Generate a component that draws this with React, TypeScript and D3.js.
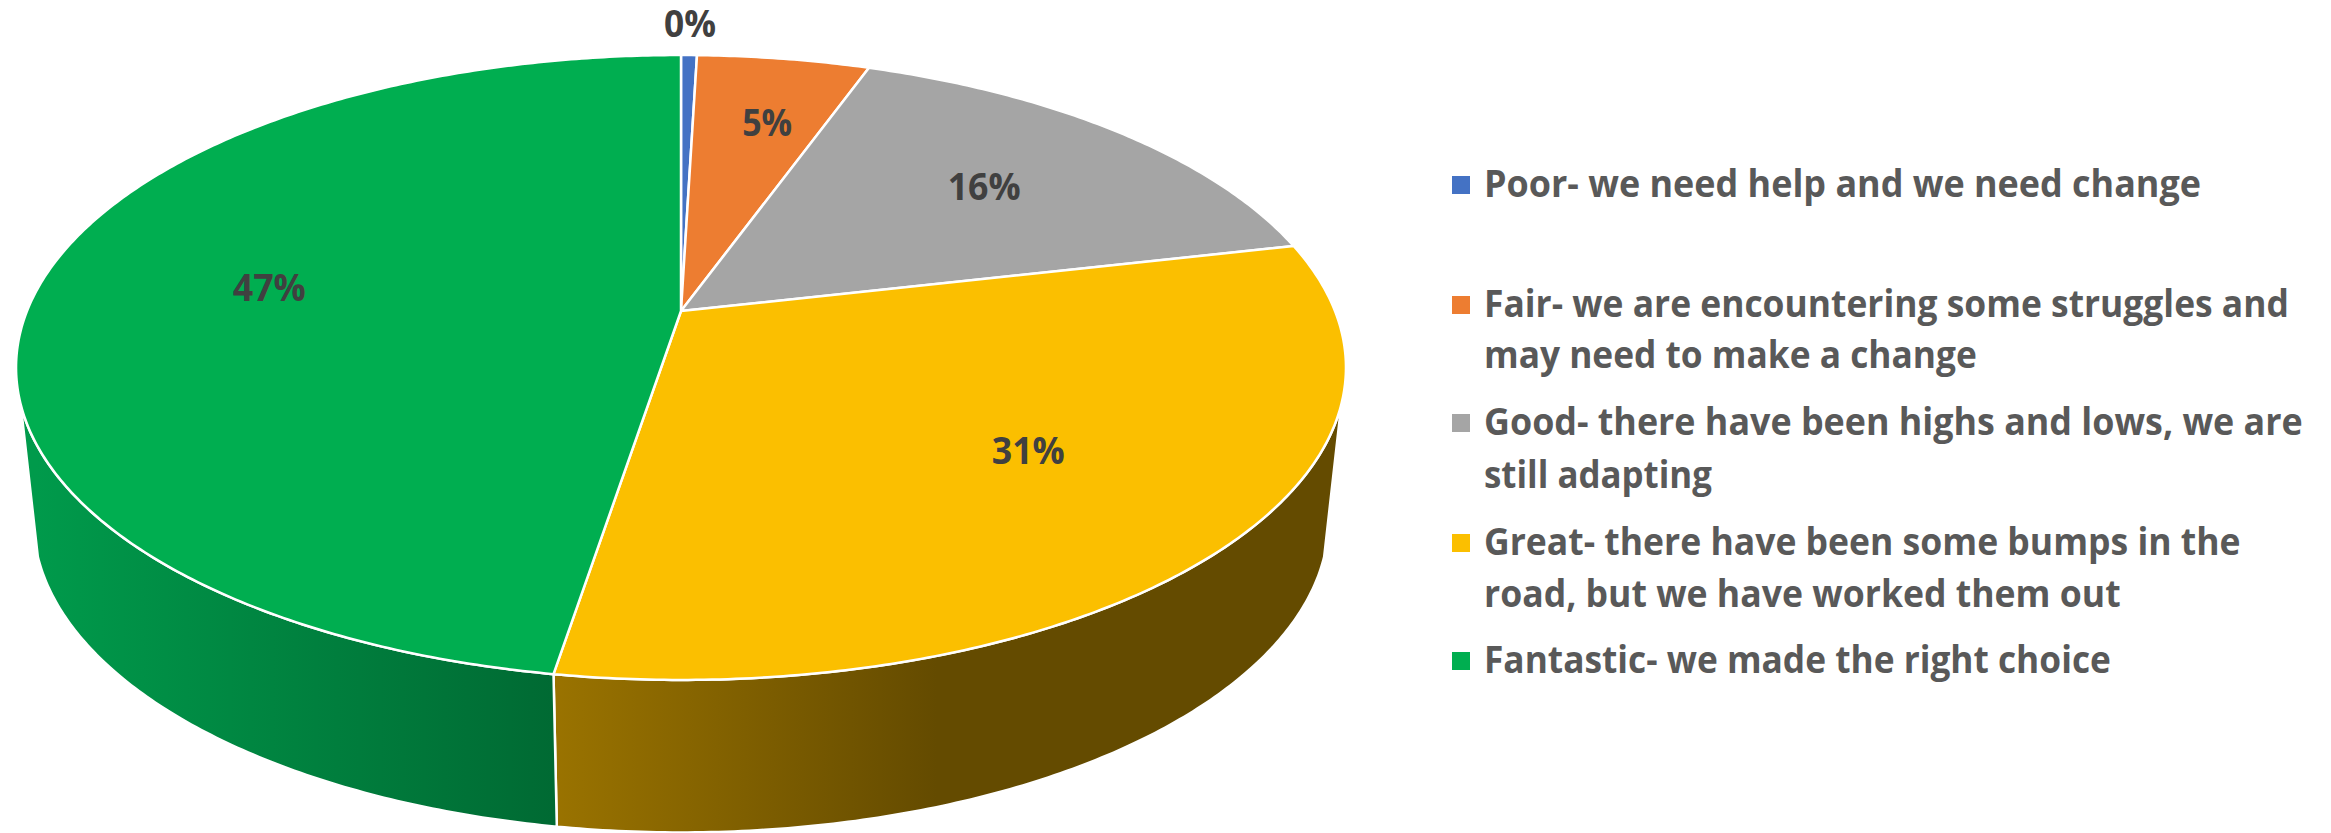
import React, { useEffect, useRef } from "react";
import * as d3 from "d3";

const categories = ["Poor", "Fair", "Good", "Great", "Fantastic"];
const shares = [0.46, 5, 15.95, 31.15, 47.44];
const labels = ["0%", "5%", "16%", "31%", "47%"];
const colors = ["#4472C4", "#ED7D31", "#A5A5A5", "#FBBF00", "#00AE50"];
const legendLines = [
    ["Poor- we need help and we need change"],
    ["Fair- we are encountering some struggles and", "may need to make a change"],
    ["Good- there have been highs and lows, we are", "still adapting"],
    ["Great- there have been some bumps in the", "road, but we have worked them out"],
    ["Fantastic- we made the right choice"],
];

// layout
const legendBaselines = [[197], [317, 368], [435, 488], [555, 607], [673]];
const legendWidths = [[717], [805, 493], [819, 228], [757, 637], [627]];
const labelWidths = [52, 50, 73, 73, 73];
const labelRadius = [1.15, 0.72, 0.67, 0.65, 0.65];
const labelShift = [[0, 0], [9, 1], [0, 0], [10, -6], [8, -8]];
const cx = 681;
const R = 654;
const apexY = 311;
const persp = -0.1808; // how much the near edge grows
const slant = 246;
const wallScale = 0.974;
const wallCentreY = 520;
const rimCentreY = 367.5;
const wallStart = (107 * Math.PI) / 180; // where the wall leaves the top rim

// angle (clockwise from 12 o'clock) and radius fraction to page position
function top(a: number, r = 1): [number, number] {
    const u = r * Math.sin(a);
    const v = -r * Math.cos(a);
    const d = 1 + persp * v;
    return [cx + (R * u) / d, (slant * v + apexY) / d];
}

function bottom(a: number): [number, number] {
    const [x, y] = top(a);
    return [cx + wallScale * (x - cx), wallCentreY + (y - rimCentreY)];
}

function angles(a0: number, a1: number) {
    const n = Math.max(2, Math.ceil((a1 - a0) / 0.01));
    return d3.range(n + 1).map((i) => a0 + ((a1 - a0) * i) / n);
}

// the original type is narrower than Open Sans, so squeeze each line to its width
function squeeze(text: any, x: number, y: number, width: number) {
    const natural = text.node().getComputedTextLength();
    text.attr("transform", `translate(${x},${y}) scale(${width / natural},1)`);
}

export default function App() {
    const ref = useRef<SVGSVGElement>(null);

    useEffect(() => {
        const svg = d3.select(ref.current);
        svg.selectAll("*").remove();

        const arcs = d3.pie<number>().sort(null)(shares);
        const line = d3.line();
        const defs = svg.append("defs");

        const wallGrad = [
            { i: 3, x1: 553, x2: 937, from: "#9A7300", to: "#644B00" },
            { i: 4, x1: 36, x2: 553, from: "#009A4B", to: "#006A33" },
        ];
        wallGrad.forEach((g) => {
            const lg = defs
                .append("linearGradient")
                .attr("id", "wall" + g.i)
                .attr("gradientUnits", "userSpaceOnUse")
                .attr("x1", g.x1)
                .attr("x2", g.x2)
                .attr("y1", 0)
                .attr("y2", 0);
            lg.append("stop").attr("offset", 0).attr("stop-color", g.from);
            lg.append("stop").attr("offset", 1).attr("stop-color", g.to);
        });

        // side walls first, the top face covers their upper edge
        arcs.forEach((d, i) => {
            const a0 = Math.max(d.startAngle, wallStart);
            const a1 = Math.min(d.endAngle, 2 * Math.PI - wallStart);
            if (a1 <= a0) return;
            const as = angles(a0, a1);
            const pts = [...as.map((a) => top(a)), ...as.reverse().map(bottom)];
            svg.append("path")
                .attr("d", line(pts) + "Z")
                .attr("fill", `url(#wall${i})`)
                .attr("stroke", "#fff")
                .attr("stroke-width", 2.5)
                .attr("stroke-linejoin", "round");
        });

        arcs.forEach((d, i) => {
            const pts = [top(0, 0), ...angles(d.startAngle, d.endAngle).map((a) => top(a))];
            svg.append("path")
                .attr("d", line(pts) + "Z")
                .attr("fill", colors[i])
                .attr("stroke", "#fff")
                .attr("stroke-width", 2.5)
                .attr("stroke-linejoin", "round");
        });

        arcs.forEach((d, i) => {
            const [x, y] = top((d.startAngle + d.endAngle) / 2, labelRadius[i]);
            const label = svg.append("text")
                .attr("dy", "0.35em")
                .attr("text-anchor", "middle")
                .attr("font-family", "'Open Sans'")
                .attr("font-weight", 700)
                .attr("font-size", 38)
                .attr("fill", "#404040")
                .text(labels[i]);
            squeeze(label, x + labelShift[i][0], y + labelShift[i][1], labelWidths[i]);
        });

        categories.forEach((c, i) => {
            svg.append("rect")
                .attr("x", 1452)
                .attr("y", legendBaselines[i][0] - 21)
                .attr("width", 18)
                .attr("height", 18)
                .attr("fill", colors[i]);
            legendLines[i].forEach((t, j) => {
                const entry = svg.append("text")
                    .attr("font-family", "'Open Sans'")
                    .attr("font-weight", 700)
                    .attr("font-size", 38)
                    .attr("fill", "#595959")
                    .text(t);
                squeeze(entry, 1484, legendBaselines[i][j], legendWidths[i][j]);
            });
        });
    }, []);

    return (
        <svg
            ref={ref}
            width={2331}
            height={833}
            style={{ position: "absolute", left: 0, top: 0, display: "block" }}
        ></svg>
    );
}
